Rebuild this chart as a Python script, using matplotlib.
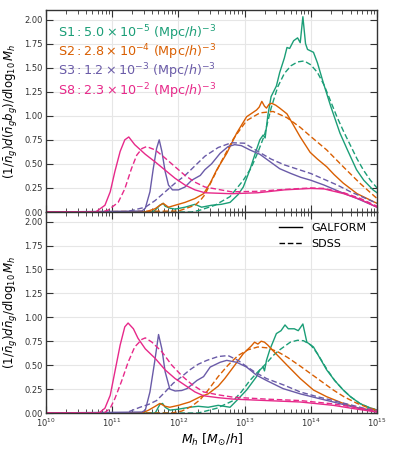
import matplotlib
matplotlib.use("Agg")
import matplotlib.pyplot as plt
from matplotlib.ticker import LogLocator, NullFormatter, MultipleLocator, FormatStrFormatter
import numpy as np

# ---------------- DATA (log10 M_h, value) ----------------
# Top panel: bias-weighted
top_s1_gal_x = [10.0, 11.6, 11.65, 11.72, 11.77, 11.8, 11.87, 11.95, 12.1, 12.25, 12.35, 12.5, 12.65, 12.78, 12.9, 12.98, 13.08, 13.18, 13.23, 13.28, 13.31, 13.35, 13.4, 13.48, 13.53, 13.6, 13.64, 13.68, 13.74, 13.8, 13.84, 13.88, 13.92, 13.95, 14.04, 14.1, 14.19, 14.3, 14.44, 14.55, 14.69, 14.8, 14.94, 15.0]
top_s1_gal_y = [0.0, 0.0, 0.02, 0.07, 0.09, 0.06, 0.04, 0.03, 0.05, 0.08, 0.05, 0.07, 0.08, 0.10, 0.18, 0.26, 0.44, 0.65, 0.75, 0.80, 0.77, 1.00, 1.20, 1.31, 1.45, 1.60, 1.71, 1.70, 1.78, 1.81, 1.76, 2.03, 1.75, 1.69, 1.66, 1.55, 1.34, 1.10, 0.82, 0.65, 0.44, 0.33, 0.23, 0.20]
top_s1_sdss_x = [10.0, 12.2, 12.33, 12.55, 12.78, 12.98, 13.1, 13.2, 13.3, 13.4, 13.5, 13.6, 13.7, 13.8, 13.9, 14.0, 14.1, 14.2, 14.3, 14.4, 14.5, 14.6, 14.7, 14.8, 14.9, 15.0]
top_s1_sdss_y = [0.0, 0.0, 0.02, 0.07, 0.16, 0.33, 0.46, 0.62, 0.80, 1.08, 1.30, 1.44, 1.52, 1.56, 1.57, 1.53, 1.45, 1.32, 1.15, 0.98, 0.83, 0.69, 0.55, 0.43, 0.33, 0.25]

top_s2_gal_x = [10.0, 11.5, 11.65, 11.72, 11.77, 11.85, 11.95, 12.1, 12.25, 12.38, 12.48, 12.58, 12.73, 12.88, 13.03, 13.18, 13.22, 13.26, 13.3, 13.33, 13.37, 13.41, 13.47, 13.53, 13.64, 13.74, 13.84, 13.99, 14.1, 14.24, 14.35, 14.49, 14.7, 15.0]
top_s2_gal_y = [0.0, 0.0, 0.035, 0.07, 0.09, 0.05, 0.07, 0.10, 0.14, 0.19, 0.30, 0.44, 0.61, 0.82, 0.99, 1.06, 1.09, 1.15, 1.10, 1.08, 1.12, 1.13, 1.11, 1.08, 1.02, 0.90, 0.78, 0.62, 0.55, 0.47, 0.39, 0.30, 0.19, 0.09]
top_s2_sdss_x = [10.0, 12.0, 12.25, 12.33, 12.4, 12.5, 12.63, 12.83, 13.03, 13.23, 13.43, 13.64, 13.84, 13.99, 14.24, 14.49, 14.74, 15.0]
top_s2_sdss_y = [0.0, 0.01, 0.07, 0.12, 0.18, 0.32, 0.50, 0.76, 0.95, 1.03, 1.045, 0.98, 0.88, 0.79, 0.645, 0.47, 0.30, 0.14]

top_s3_gal_x = [10.0, 11.45, 11.5, 11.57, 11.62, 11.67, 11.71, 11.75, 11.8, 11.85, 11.91, 12.0, 12.1, 12.2, 12.33, 12.4, 12.5, 12.63, 12.75, 12.85, 12.95, 13.08, 13.23, 13.33, 13.53, 13.7, 13.85, 14.0, 14.2, 14.44, 14.7, 15.0]
top_s3_gal_y = [0.0, 0.01, 0.04, 0.21, 0.45, 0.66, 0.75, 0.63, 0.42, 0.28, 0.23, 0.23, 0.26, 0.33, 0.38, 0.44, 0.50, 0.61, 0.68, 0.70, 0.69, 0.645, 0.60, 0.55, 0.45, 0.40, 0.36, 0.33, 0.28, 0.21, 0.14, 0.05]
top_s3_sdss_x = [10.0, 11.2, 11.5, 11.65, 11.8, 11.95, 12.1, 12.25, 12.4, 12.6, 12.8, 13.0, 13.2, 13.4, 13.6, 13.8, 14.0, 14.2, 14.4, 14.6, 14.8, 15.0]
top_s3_sdss_y = [0.0, 0.0, 0.05, 0.12, 0.21, 0.30, 0.38, 0.48, 0.58, 0.67, 0.72, 0.715, 0.63, 0.55, 0.49, 0.445, 0.40, 0.34, 0.28, 0.21, 0.15, 0.09]

top_s8_gal_x = [10.0, 10.75, 10.89, 10.97, 11.04, 11.12, 11.19, 11.25, 11.34, 11.5, 11.65, 11.8, 11.95, 12.1, 12.25, 12.4, 12.8, 13.2, 13.6, 14.0, 14.2, 14.5, 14.75, 15.0]
top_s8_gal_y = [0.0, 0.0, 0.07, 0.21, 0.42, 0.63, 0.75, 0.78, 0.70, 0.60, 0.52, 0.435, 0.35, 0.28, 0.23, 0.20, 0.19, 0.20, 0.23, 0.245, 0.24, 0.19, 0.13, 0.05]
top_s8_sdss_x = [10.0, 10.85, 10.94, 11.09, 11.19, 11.29, 11.37, 11.45, 11.52, 11.65, 11.8, 11.95, 12.1, 12.25, 12.4, 12.8, 13.2, 13.6, 14.0, 14.2, 14.5, 14.75, 15.0]
top_s8_sdss_y = [0.0, 0.0, 0.02, 0.10, 0.24, 0.45, 0.59, 0.66, 0.68, 0.645, 0.56, 0.47, 0.38, 0.31, 0.26, 0.21, 0.215, 0.235, 0.25, 0.245, 0.20, 0.14, 0.06]

# Bottom panel: number-weighted
bot_s1_gal_x = [10.0, 11.65, 11.72, 11.76, 11.8, 11.87, 12.0, 12.17, 12.3, 12.45, 12.6, 12.78, 12.88, 13.03, 13.18, 13.23, 13.28, 13.3, 13.33, 13.38, 13.48, 13.55, 13.61, 13.66, 13.75, 13.81, 13.88, 13.94, 14.04, 14.14, 14.24, 14.36, 14.49, 14.6, 14.74, 14.87, 15.0]
bot_s1_gal_y = [0.0, 0.0, 0.09, 0.10, 0.06, 0.03, 0.04, 0.06, 0.07, 0.06, 0.08, 0.06, 0.13, 0.24, 0.38, 0.45, 0.48, 0.44, 0.55, 0.66, 0.83, 0.86, 0.92, 0.88, 0.88, 0.86, 0.93, 0.74, 0.69, 0.57, 0.45, 0.34, 0.24, 0.17, 0.10, 0.06, 0.03]
bot_s1_sdss_x = [10.0, 12.3, 12.58, 12.83, 12.95, 13.08, 13.2, 13.33, 13.43, 13.53, 13.69, 13.8, 13.89, 14.0, 14.1, 14.24, 14.36, 14.49, 14.6, 14.74, 14.87, 15.0]
bot_s1_sdss_y = [0.0, 0.0, 0.05, 0.13, 0.22, 0.34, 0.43, 0.52, 0.60, 0.66, 0.74, 0.76, 0.755, 0.71, 0.62, 0.46, 0.34, 0.24, 0.17, 0.10, 0.06, 0.03]

bot_s2_gal_x = [10.0, 11.45, 11.55, 11.65, 11.72, 11.8, 11.87, 12.0, 12.17, 12.33, 12.45, 12.6, 12.7, 12.83, 12.98, 13.1, 13.15, 13.2, 13.25, 13.3, 13.35, 13.43, 13.5, 13.64, 13.84, 14.04, 14.24, 14.49, 14.74, 15.0]
bot_s2_gal_y = [0.0, 0.0, 0.03, 0.07, 0.10, 0.07, 0.06, 0.08, 0.115, 0.17, 0.20, 0.28, 0.36, 0.48, 0.62, 0.70, 0.74, 0.72, 0.75, 0.74, 0.71, 0.65, 0.60, 0.50, 0.36, 0.24, 0.17, 0.10, 0.046, 0.03]
bot_s2_sdss_x = [10.0, 11.9, 12.05, 12.2, 12.33, 12.45, 12.6, 12.75, 12.9, 13.05, 13.2, 13.35, 13.5, 13.65, 13.84, 14.0, 14.2, 14.34, 14.5, 14.7, 14.85, 15.0]
bot_s2_sdss_y = [0.0, 0.0, 0.02, 0.07, 0.14, 0.24, 0.38, 0.50, 0.60, 0.66, 0.69, 0.68, 0.64, 0.58, 0.49, 0.41, 0.31, 0.24, 0.17, 0.10, 0.06, 0.03]

bot_s3_gal_x = [10.0, 11.45, 11.5, 11.57, 11.64, 11.70, 11.75, 11.8, 11.87, 11.95, 12.05, 12.13, 12.28, 12.38, 12.48, 12.63, 12.73, 12.88, 13.03, 13.18, 13.33, 13.58, 13.84, 14.1, 14.34, 14.6, 15.0]
bot_s3_gal_y = [0.0, 0.01, 0.03, 0.22, 0.53, 0.82, 0.67, 0.43, 0.25, 0.23, 0.235, 0.255, 0.34, 0.38, 0.48, 0.53, 0.55, 0.53, 0.48, 0.395, 0.34, 0.255, 0.20, 0.155, 0.115, 0.07, 0.01]
bot_s3_sdss_x = [10.0, 11.2, 11.42, 11.55, 11.67, 11.8, 11.92, 12.05, 12.17, 12.3, 12.43, 12.6, 12.75, 12.9, 13.0, 13.15, 13.33, 13.6, 13.84, 14.1, 14.34, 14.6, 14.8, 15.0]
bot_s3_sdss_y = [0.0, 0.0, 0.06, 0.09, 0.13, 0.22, 0.31, 0.38, 0.45, 0.51, 0.55, 0.59, 0.60, 0.55, 0.50, 0.43, 0.36, 0.29, 0.22, 0.17, 0.13, 0.085, 0.05, 0.03]

bot_s8_gal_x = [10.0, 10.8, 10.89, 10.97, 11.04, 11.12, 11.19, 11.24, 11.32, 11.39, 11.5, 11.65, 11.8, 11.95, 12.1, 12.25, 12.38, 12.6, 12.83, 13.33, 13.84, 14.34, 14.7, 15.0]
bot_s8_gal_y = [0.0, 0.0, 0.05, 0.185, 0.43, 0.71, 0.90, 0.94, 0.88, 0.78, 0.67, 0.57, 0.45, 0.36, 0.29, 0.22, 0.18, 0.16, 0.145, 0.13, 0.115, 0.08, 0.04, 0.01]
bot_s8_sdss_x = [10.0, 10.88, 10.97, 11.04, 11.14, 11.24, 11.34, 11.45, 11.5, 11.6, 11.75, 11.9, 12.05, 12.2, 12.38, 12.6, 12.83, 13.33, 13.84, 14.34, 14.7, 15.0]
bot_s8_sdss_y = [0.0, 0.0, 0.05, 0.15, 0.33, 0.53, 0.69, 0.77, 0.785, 0.74, 0.64, 0.50, 0.39, 0.30, 0.22, 0.19, 0.165, 0.145, 0.13, 0.095, 0.055, 0.02]

sample_names = ["S1", "S2", "S3", "S8"]
sample_density = [r"5.0\times10^{-5}", r"2.8\times10^{-4}", r"1.2\times10^{-3}", r"2.3\times10^{-2}"]
colors = ["#1b9e77", "#d95f02", "#6a5ba8", "#e7298a"]

top_gal = [(top_s1_gal_x, top_s1_gal_y), (top_s2_gal_x, top_s2_gal_y), (top_s3_gal_x, top_s3_gal_y), (top_s8_gal_x, top_s8_gal_y)]
top_sdss = [(top_s1_sdss_x, top_s1_sdss_y), (top_s2_sdss_x, top_s2_sdss_y), (top_s3_sdss_x, top_s3_sdss_y), (top_s8_sdss_x, top_s8_sdss_y)]
bot_gal = [(bot_s1_gal_x, bot_s1_gal_y), (bot_s2_gal_x, bot_s2_gal_y), (bot_s3_gal_x, bot_s3_gal_y), (bot_s8_gal_x, bot_s8_gal_y)]
bot_sdss = [(bot_s1_sdss_x, bot_s1_sdss_y), (bot_s2_sdss_x, bot_s2_sdss_y), (bot_s3_sdss_x, bot_s3_sdss_y), (bot_s8_sdss_x, bot_s8_sdss_y)]

# ---------------- FIGURE ----------------
fig = plt.figure(figsize=(3.98, 4.53), dpi=100)
ax_top = fig.add_axes([0.1156, 0.532, 0.8317, 0.446])
ax_bot = fig.add_axes([0.1156, 0.0883, 0.8317, 0.4437], sharex=ax_top)

for ax, gal, sdss in [(ax_top, top_gal, top_sdss), (ax_bot, bot_gal, bot_sdss)]:
    for c, (gx, gy), (sx, sy) in zip(colors, gal, sdss):
        ax.plot(10 ** np.array(gx), gy, color=c, lw=1.0, ls="-")
        ax.plot(10 ** np.array(sx), sy, color=c, lw=1.0, ls=(0, (4, 2)))
    ax.set_xscale("log")
    ax.set_xlim(1e10, 1e15)
    ax.set_ylim(0, 2.1)
    ax.yaxis.set_major_locator(MultipleLocator(0.25))
    ax.yaxis.set_major_formatter(FormatStrFormatter("%.2f"))
    ax.xaxis.set_major_locator(LogLocator(base=10, numticks=10))
    ax.xaxis.set_minor_locator(LogLocator(base=10, subs=np.arange(2, 10), numticks=20))
    ax.xaxis.set_minor_formatter(NullFormatter())
    ax.grid(True, which="major", color="#e6e6e6", lw=0.8)
    ax.set_axisbelow(True)
    ax.tick_params(which="both", direction="in", top=True, right=True,
                   labelsize=6, colors="#333333", pad=2.5)
    ax.tick_params(which="major", length=5, width=0.8)
    ax.tick_params(which="minor", length=3, width=0.6)
    for sp in ax.spines.values():
        sp.set_color("#333333")
        sp.set_linewidth(1.0)

ax_top.tick_params(labelbottom=False)
ax_top.set_ylabel(r"$(1/\bar{n}_g)d(\bar{n}_g b_g)/d\log_{10}M_h$", fontsize=8.5, labelpad=3)
ax_bot.set_ylabel(r"$(1/\bar{n}_g)d\bar{n}_g/d\log_{10}M_h$", fontsize=8.5, labelpad=3)
ax_bot.set_xlabel(r"$M_h\ [M_{\odot}/h]$", fontsize=9, labelpad=2)

for i, (name, dens, c) in enumerate(zip(sample_names, sample_density, colors)):
    ax_top.text(0.037, 0.885 - 0.095 * i,
                r"$\mathrm{" + name + r":}" + dens + r"\ (\mathrm{Mpc}/h)^{-3}$",
                transform=ax_top.transAxes, color=c, fontsize=9.2, va="center", ha="left")

ax_bot.plot([], [], color="black", lw=1.0, ls="-", label="GALFORM")
ax_bot.plot([], [], color="black", lw=1.0, ls=(0, (4, 2)), label="SDSS")
ax_bot.legend(loc="upper right", frameon=False, fontsize=8, handlelength=2.1,
              labelspacing=0.55, borderaxespad=0.6)

fig.savefig("out.png", dpi=100)
